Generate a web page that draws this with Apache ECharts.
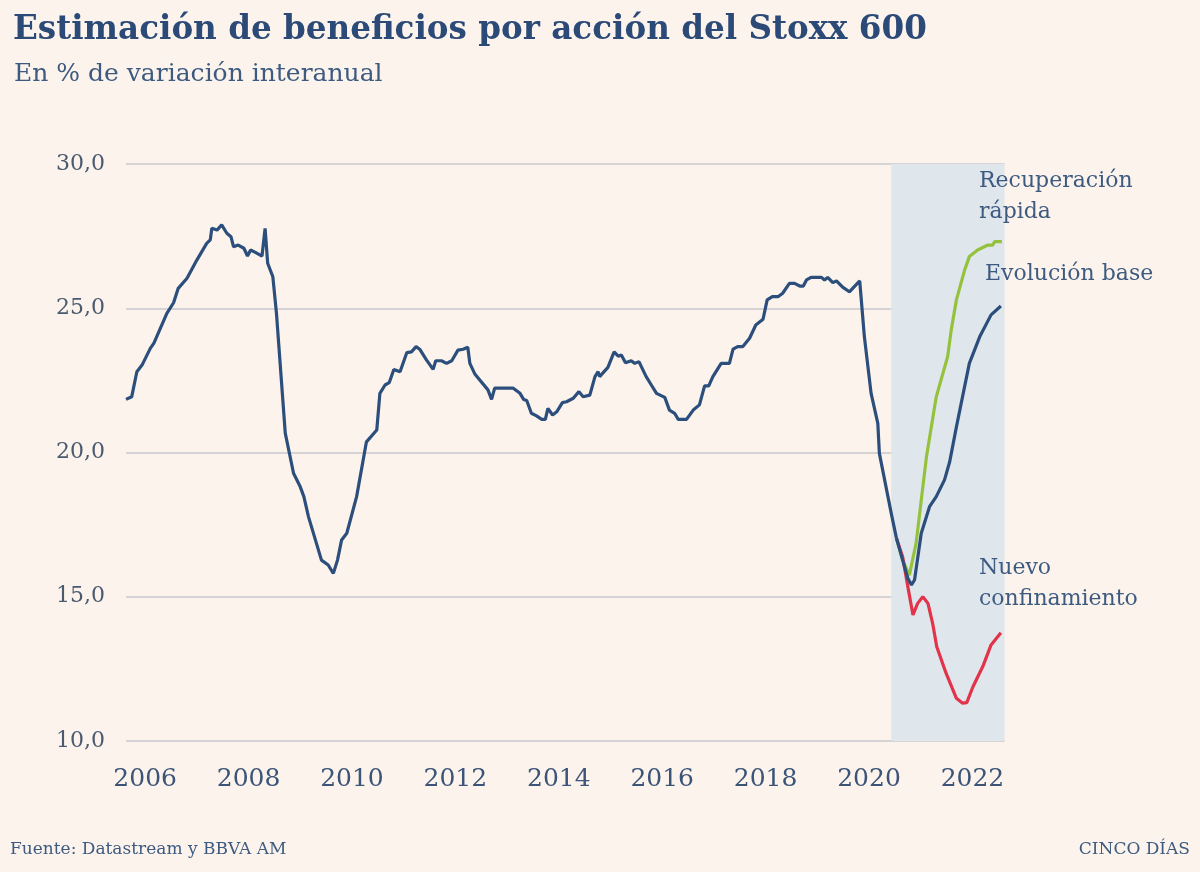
<!DOCTYPE html>
<html>
<head>
<meta charset="utf-8">
<script src="https://cdn.jsdelivr.net/npm/echarts@6/dist/echarts.min.js"></script>
<style>
html,body{margin:0;padding:0;background:#fcf4ec;}
#chart{width:1200px;height:872px;}
</style>
</head>
<body>
<div id="chart"></div>
<script>
// ---- Data (decimal years, % values) ----
const yearTicks = [2006, 2008, 2010, 2012, 2014, 2016, 2018, 2020, 2022];
const yTicks = [10, 15, 20, 25, 30];
const forecastBand = [2020.43, 2022.62];

const histYears = [2005.63,2005.74,2005.84,2005.94,2006.10,2006.17,2006.42,2006.55,2006.64,2006.81,2007.00,2007.19,2007.26,2007.29,2007.39,2007.48,2007.58,2007.66,2007.71,2007.80,2007.91,2007.98,2008.04,2008.14,2008.26,2008.32,2008.37,2008.47,2008.54,2008.71,2008.87,2009.00,2009.07,2009.16,2009.41,2009.54,2009.64,2009.72,2009.80,2009.90,2010.09,2010.28,2010.48,2010.54,2010.64,2010.72,2010.81,2010.93,2011.06,2011.15,2011.24,2011.31,2011.44,2011.57,2011.62,2011.73,2011.83,2011.93,2012.05,2012.15,2012.24,2012.28,2012.38,2012.63,2012.70,2012.76,2013.12,2013.25,2013.32,2013.38,2013.47,2013.57,2013.67,2013.74,2013.79,2013.88,2013.96,2014.07,2014.15,2014.28,2014.39,2014.47,2014.60,2014.70,2014.76,2014.79,2014.95,2015.07,2015.15,2015.21,2015.29,2015.40,2015.47,2015.55,2015.69,2015.79,2015.89,2016.05,2016.14,2016.24,2016.31,2016.47,2016.60,2016.72,2016.82,2016.90,2016.98,2017.14,2017.30,2017.37,2017.46,2017.56,2017.69,2017.81,2017.95,2018.03,2018.13,2018.24,2018.33,2018.46,2018.56,2018.66,2018.73,2018.79,2018.88,2019.08,2019.14,2019.20,2019.30,2019.37,2019.49,2019.62,2019.82,2019.91,2020.04,2020.17,2020.20,2020.43,2020.53];
const histValues = [21.84,21.93,22.80,23.03,23.61,23.79,24.82,25.19,25.69,26.04,26.67,27.25,27.37,27.77,27.71,27.89,27.60,27.48,27.13,27.19,27.08,26.81,27.02,26.93,26.81,27.77,26.56,26.09,24.82,20.67,19.28,18.81,18.47,17.77,16.27,16.10,15.81,16.27,16.97,17.20,18.47,20.37,20.78,22.05,22.34,22.42,22.88,22.80,23.46,23.49,23.67,23.58,23.21,22.88,23.18,23.18,23.09,23.18,23.55,23.58,23.65,23.09,22.71,22.17,21.84,22.23,22.23,22.05,21.84,21.80,21.36,21.27,21.15,21.15,21.53,21.30,21.41,21.73,21.76,21.88,22.11,21.93,21.99,22.63,22.80,22.63,22.95,23.49,23.34,23.38,23.11,23.18,23.09,23.15,22.63,22.34,22.05,21.91,21.47,21.36,21.15,21.15,21.47,21.65,22.31,22.31,22.63,23.09,23.09,23.58,23.67,23.67,23.96,24.42,24.62,25.29,25.40,25.40,25.52,25.86,25.86,25.77,25.77,25.98,26.07,26.07,25.98,26.07,25.89,25.95,25.73,25.57,25.95,24.01,22.05,21.01,19.97,17.89,17.03];

const baseYears = [2020.53,2020.65,2020.75,2020.82,2020.88,2021.01,2021.17,2021.30,2021.46,2021.56,2021.69,2021.94,2022.14,2022.36,2022.55];
const baseValues = [17.03,16.27,15.64,15.41,15.58,17.20,18.12,18.47,19.05,19.68,20.89,23.09,24.01,24.77,25.08];

const rapidYears = [2020.53,2020.65,2020.78,2020.91,2021.01,2021.11,2021.30,2021.52,2021.59,2021.69,2021.85,2021.94,2022.10,2022.30,2022.39,2022.43,2022.57];
const rapidValues = [17.03,16.27,15.75,16.85,18.35,19.84,21.93,23.32,24.25,25.29,26.33,26.79,27.02,27.19,27.19,27.31,27.31];

const lockYears = [2020.53,2020.65,2020.75,2020.85,2020.94,2021.04,2021.14,2021.23,2021.31,2021.49,2021.69,2021.81,2021.89,2022.01,2022.20,2022.36,2022.55];
const lockValues = [17.03,16.39,15.35,14.37,14.77,15.00,14.77,14.08,13.27,12.35,11.48,11.31,11.33,11.88,12.58,13.33,13.75];

const zip = (xs, ys) => xs.map((x, i) => [x, ys[i]]);

const FONT = 'DejaVu Serif';
const TXT = '#3d5a80';

const chart = echarts.init(document.getElementById('chart'), null, {renderer: 'canvas'});
chart.setOption({
  backgroundColor: '#fcf4ec',
  animation: false,
  title: [
    {text: 'Estimación de beneficios por acción del Stoxx 600', left: 8, top: 9,
     textStyle: {fontFamily: FONT, fontWeight: 'bold', fontSize: 32.6, color: '#2c4a78'}},
    {text: 'En % de variación interanual', left: 9, top: 57,
     textStyle: {fontFamily: FONT, fontWeight: 'normal', fontSize: 25, color: TXT}}
  ],
  grid: {left: 126, right: 195.5, top: 164, bottom: 131},
  xAxis: {
    type: 'value', min: 2005.63, max: forecastBand[1],
    axisLine: {show: false}, axisTick: {show: false}, splitLine: {show: false},
    axisLabel: {customValues: yearTicks, formatter: v => String(v), margin: 26,
      fontFamily: FONT, fontSize: 25, color: '#3b5478'}
  },
  yAxis: {
    type: 'value', min: yTicks[0], max: yTicks[yTicks.length - 1], interval: 5,
    axisLine: {show: false}, axisTick: {show: false},
    splitLine: {lineStyle: {color: '#c8c8cc', width: 1.5}},
    axisLabel: {formatter: v => v.toFixed(1).replace('.', ','), margin: 21,
      fontFamily: FONT, fontSize: 22, color: '#4b5a70'}
  },
  series: [
    {type: 'line', name: 'Histórico', data: zip(histYears, histValues), showSymbol: false,
     lineStyle: {color: '#2c4e7c', width: 3.2}, z: 3,
     markArea: {silent: true, itemStyle: {color: '#dfe6ec'},
       data: [[{xAxis: forecastBand[0]}, {xAxis: forecastBand[1]}]]}},
    {type: 'line', name: 'Recuperación rápida', data: zip(rapidYears, rapidValues), showSymbol: false,
     lineStyle: {color: '#95c23d', width: 3.2}, z: 2},
    {type: 'line', name: 'Nuevo confinamiento', data: zip(lockYears, lockValues), showSymbol: false,
     lineStyle: {color: '#e2334a', width: 3.2}, z: 2},
    {type: 'line', name: 'Evolución base', data: zip(baseYears, baseValues), showSymbol: false,
     lineStyle: {color: '#2c4e7c', width: 3.2}, z: 4}
  ],
  graphic: [
    {type: 'text', z: 100, left: 979, top: 166, style: {text: 'Recuperación\nrápida', font: '22px "DejaVu Serif"', fill: TXT, lineHeight: 31}},
    {type: 'text', z: 100, left: 985, top: 263, style: {text: 'Evolución base', font: '22px "DejaVu Serif"', fill: TXT}},
    {type: 'text', z: 100, left: 979, top: 553, style: {text: 'Nuevo\nconfinamiento', font: '22px "DejaVu Serif"', fill: TXT, lineHeight: 31}},
    {type: 'text', z: 100, left: 10, top: 841, style: {text: 'Fuente: Datastream y BBVA AM', font: '17px "DejaVu Serif"', fill: TXT}},
    {type: 'text', z: 100, right: 10, top: 841, style: {text: 'CINCO DÍAS', font: '17px "DejaVu Serif"', fill: TXT}}
  ]
});
</script>
</body>
</html>
